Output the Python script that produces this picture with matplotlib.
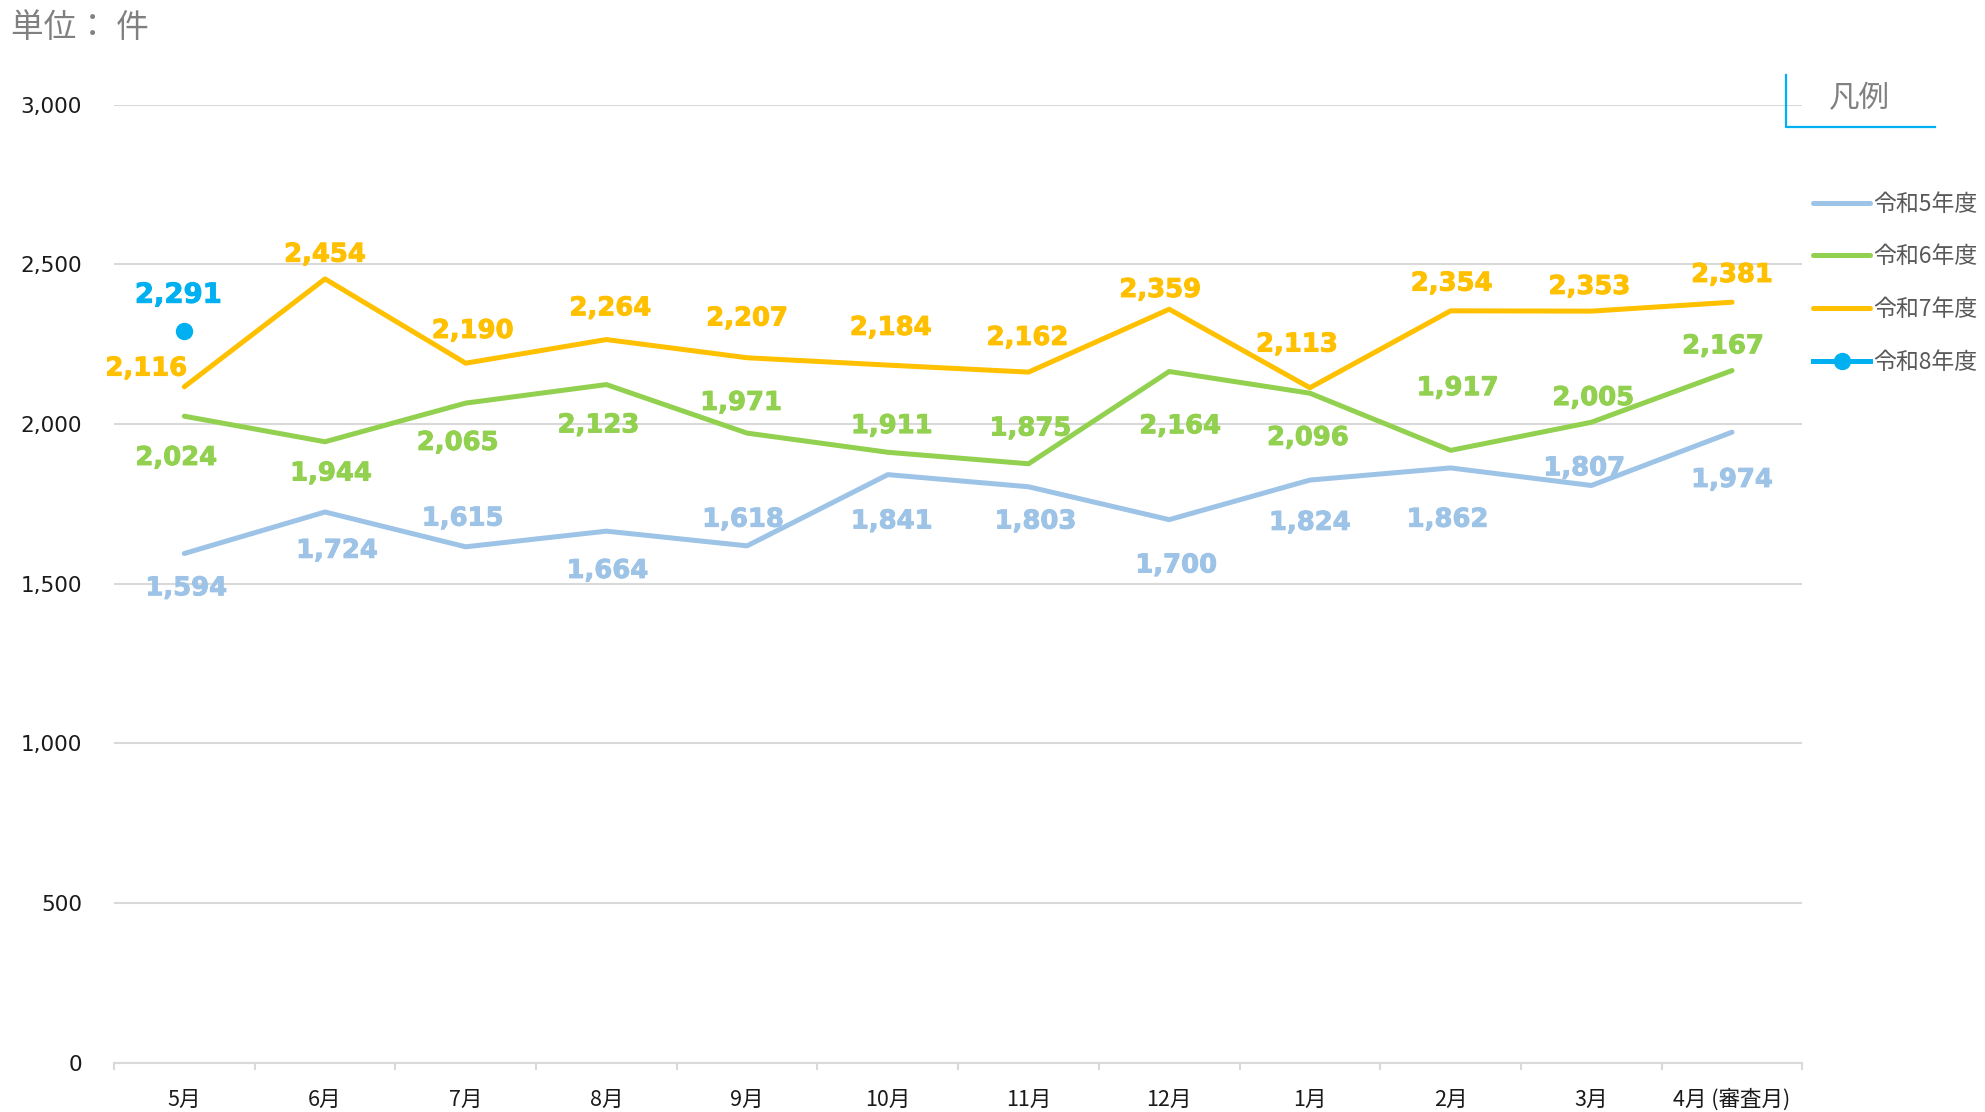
import matplotlib.pyplot as plt
import matplotlib.patheffects as pe
from matplotlib.lines import Line2D
import numpy as np

plt.rcParams['font.family'] = ['Noto Sans CJK JP', 'DejaVu Sans']

# data
months = ['5月', '6月', '7月', '8月', '9月', '10月', '11月', '12月', '1月', '2月', '3月', '4月 (審査月)']
r5 = [1594, 1724, 1615, 1664, 1618, 1841, 1803, 1700, 1824, 1862, 1807, 1974]
r6 = [2024, 1944, 2065, 2123, 1971, 1911, 1875, 2164, 2096, 1917, 2005, 2167]
r7 = [2116, 2454, 2190, 2264, 2207, 2184, 2162, 2359, 2113, 2354, 2353, 2381]
r8 = [2291]
series_names = ['令和5年度', '令和6年度', '令和7年度', '令和8年度']

# label offsets from the point, in pixels (dx right, dy down)
off5 = [(2, 32), (12, 36), (-3, -31), (1, 37), (-4, -29), (4, 44),
        (7, 32), (7, 43), (0, 40), (-3, 49), (-7, -20), (0, 45)]
off6 = [(-8, 39), (6, 29), (-8, 37), (-8, 38), (-6, -33), (4, -29),
        (2, -38), (11, 52), (-2, 42), (7, -65), (2, -27), (-9, -27)]
off7 = [(-38, -21), (0, -27), (7, -35), (4, -34), (0, -42), (3, -40),
        (-1, -37), (-9, -22), (-13, -46), (1, -30), (-2, -27), (0, -30)]
off8 = [(-6, -39)]

c5 = '#9DC3E6'
c6 = '#92D050'
c7 = '#FFC000'
c8 = '#00B0F0'

fig = plt.figure(figsize=(19.85, 11.12), dpi=100)
ax = fig.add_axes([0.0574, 0.0445, 0.8506, 0.8615])

x = np.arange(len(months))
h5, = ax.plot(x, r5, color=c5, lw=3.6, solid_capstyle='round', zorder=3)
h6, = ax.plot(x, r6, color=c6, lw=3.6, solid_capstyle='round', zorder=3)
h7, = ax.plot(x, r7, color=c7, lw=3.6, solid_capstyle='round', zorder=3)
h8, = ax.plot(x[:len(r8)], r8, color=c8, lw=3.6, marker='o', ms=11.5, zorder=4)


def label(vals, offs, col, size=18.6):
    for i, v in enumerate(vals):
        dx, dy = offs[i]
        t = ax.annotate(f'{v:,}', (x[i], v), xytext=(dx * 0.72, -dy * 0.72 - 2), textcoords='offset points',
                        ha='center', va='center', color=col, fontsize=size, fontweight='bold',
                        family='DejaVu Sans', zorder=5)
        t.set_path_effects([pe.withStroke(linewidth=0.7, foreground=col)])


label(r5, off5, c5)
label(r6, off6, c6)
label(r7, off7, c7)
label(r8, off8, c8, size=19.8)

ax.set_xlim(-0.5, len(months) - 0.5)
ax.set_ylim(0, 3000)
ax.set_yticks(range(0, 3001, 500))
ax.set_yticklabels([f'{v:,}' for v in range(0, 3001, 500)], family='DejaVu Sans', fontsize=15.5)
ax.set_xticks(x)
ax.set_xticklabels(months, fontsize=15.5)
ax.set_xticks(np.arange(-0.5, len(months)), minor=True)
ax.tick_params(axis='x', which='major', length=0, pad=19, colors='#1a1a1a')
ax.tick_params(axis='x', which='minor', length=5, width=1.5, color='#D9D9D9', direction='out')
ax.tick_params(axis='y', length=0, pad=23, colors='#1a1a1a')
ax.grid(axis='y', color='#D9D9D9', lw=1.5)
ax.set_axisbelow(True)
for s in ['top', 'right', 'left']:
    ax.spines[s].set_visible(False)
ax.spines['bottom'].set_color('#D9D9D9')
ax.spines['bottom'].set_linewidth(1.5)

fig.text(0.0055, 0.9744, '単位： 件', fontsize=23.5, color='#808080', va='center', ha='left')

# legend header
fig.text(0.9365, 0.911, '凡例', fontsize=22, color='#808080', va='center', ha='center')
fig.add_artist(Line2D([0.8998, 0.8998, 0.9748], [0.9326, 0.8858, 0.8858], color=c8, lw=1.6,
                      transform=fig.transFigure))

leg = fig.legend([h5, h6, h7, h8], series_names, loc='upper left', bbox_to_anchor=(0.9134, 0.8265),
                 frameon=False, fontsize=16.5, handlelength=2.49, handletextpad=0.13,
                 labelspacing=1.29, borderaxespad=0, borderpad=0)
for t in leg.get_texts():
    t.set_color('#595959')

fig.savefig('out.png', dpi=100)
